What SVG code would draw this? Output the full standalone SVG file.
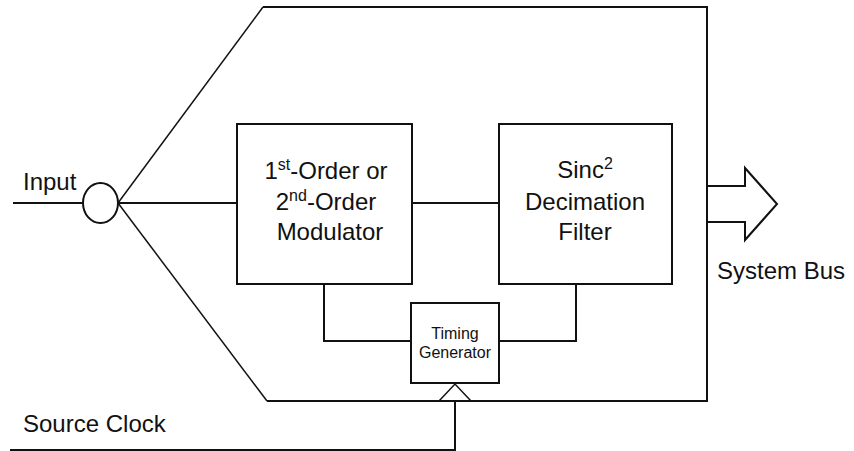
<svg xmlns="http://www.w3.org/2000/svg" width="854" height="451" viewBox="0 0 854 451">
<style>
.ln{fill:none;stroke:#111;stroke-width:2}
.dg{fill:none;stroke:#111;stroke-width:1.5}
.bx{fill:#fff;stroke:#111;stroke-width:2}
.t{font-family:"Liberation Sans",Arial,sans-serif;font-size:24px;fill:#111}
.c{text-anchor:middle}
.s{font-family:"Liberation Sans",Arial,sans-serif;font-size:16px;fill:#111;text-anchor:middle}
</style>
<rect width="854" height="451" fill="#fff"/>
<g id="connectors">
<polyline class="ln" points="263,7 707,7 707,401 267,401"/>
<line class="dg" x1="118" y1="203" x2="263" y2="7"/>
<line class="dg" x1="118" y1="203" x2="267" y2="401"/>
<line class="ln" x1="13" y1="203" x2="83" y2="203"/>
<line class="ln" x1="118" y1="203" x2="237" y2="203"/>
<line class="ln" x1="412" y1="203" x2="499" y2="203"/>
<polyline class="ln" points="324,284 324,341 411,341"/>
<polyline class="ln" points="576,284 576,341 499,341"/>
<polyline class="ln" points="707,186 745,186 745,168 777,204 745,240 745,222 707,222"/>
<polyline class="ln" points="10,450 455,450 455,401"/>
<polyline class="dg" points="439,401 455,384 471,401"/>
</g>
<g id="input-node">
<ellipse class="bx" cx="100.5" cy="203" rx="17.5" ry="20"/>
<text class="t" x="23" y="190">Input</text>
</g>
<g id="modulator">
<rect class="bx" x="237" y="124" width="175" height="160"/>
<text class="t c" x="326" y="179">1<tspan font-size="16" dy="-9">st</tspan><tspan dy="9">-Order or</tspan></text>
<text class="t c" x="326" y="210">2<tspan font-size="16" dy="-9">nd</tspan><tspan dy="9">-Order</tspan></text>
<text class="t c" x="330" y="240">Modulator</text>
</g>
<g id="decimation-filter">
<rect class="bx" x="499" y="124" width="173" height="160"/>
<text class="t c" x="585" y="178">Sinc<tspan font-size="16" dy="-9">2</tspan></text>
<text class="t c" x="585" y="210">Decimation</text>
<text class="t c" x="585" y="240">Filter</text>
</g>
<g id="timing-generator">
<rect class="bx" x="411" y="303" width="88" height="80"/>
<text class="s" x="455" y="339">Timing</text>
<text class="s" x="455" y="358">Generator</text>
</g>
<g id="labels">
<text class="t" x="717" y="279">System Bus</text>
<text class="t" x="23" y="432">Source Clock</text>
</g>
</svg>
